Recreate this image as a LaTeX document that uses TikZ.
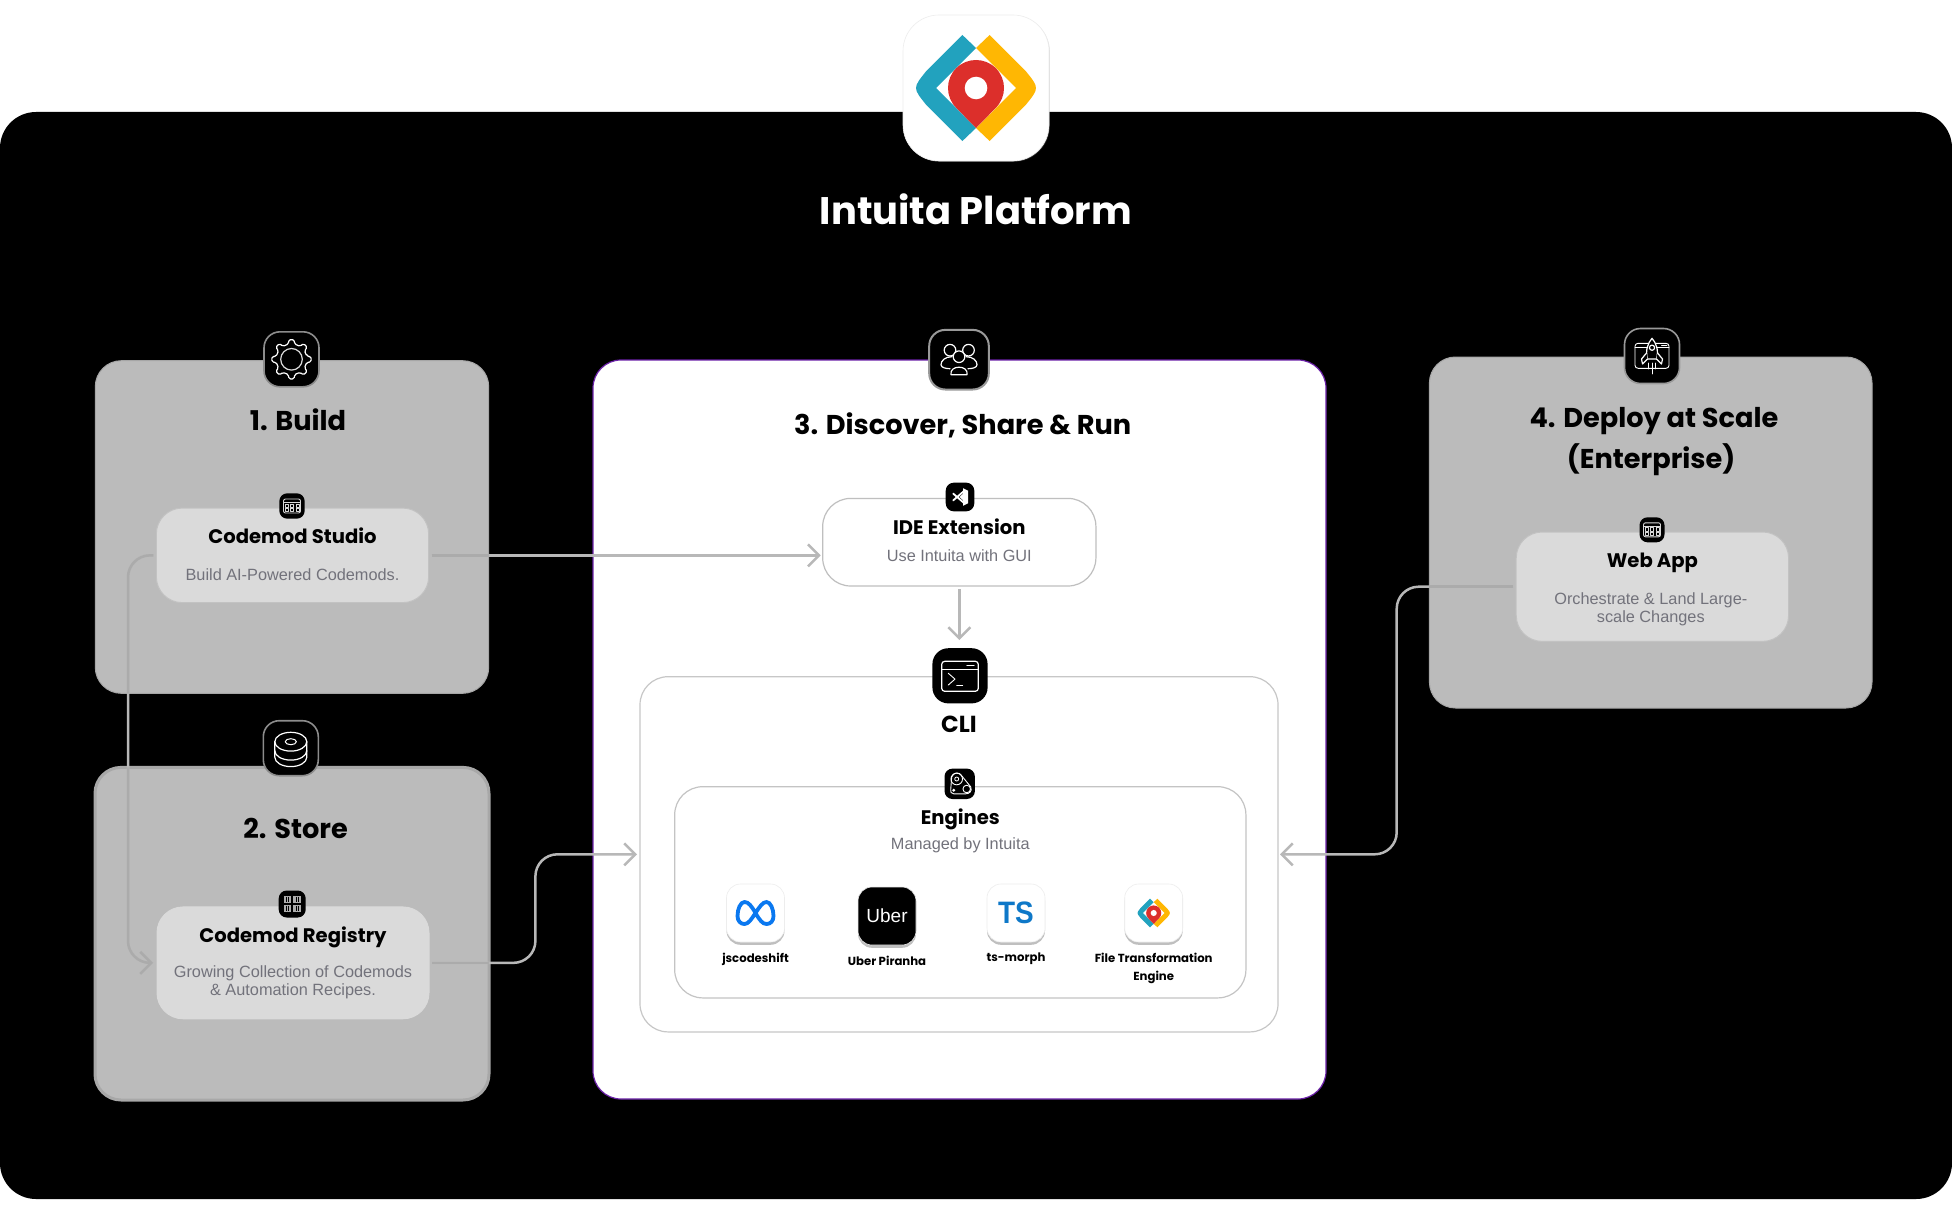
\documentclass[tikz,border=0pt]{standalone}
\usepackage{fontspec}
\setmainfont{Poppins}
\newfontfamily\notefont{Liberation Sans}
\usetikzlibrary{positioning, arrows.meta, shadows, calc}

\definecolor{panelgrey}{HTML}{BBBBBB}
\definecolor{cardgrey}{HTML}{DADADA}
\definecolor{wirelight}{HTML}{B8B8B8}
\definecolor{wiredark}{HTML}{ABABAB}
\definecolor{notegrey}{HTML}{72727B}
\definecolor{framepurple}{HTML}{6B21A8}
\definecolor{logoblue}{HTML}{22A2BE}
\definecolor{logoyellow}{HTML}{FFB703}
\definecolor{logored}{HTML}{DC2F2B}
\definecolor{metablue}{HTML}{0A78F0}
\definecolor{tsblue}{HTML}{0E78C8}

\tikzset{
  panel/.style={draw=#1, fill=panelgrey, rounded corners=13pt, outer sep=0pt, inner sep=0pt},
  card/.style={draw=#1, line width=.5pt, fill=cardgrey, rounded corners=13pt, outer sep=0pt, inner sep=0pt},
  frame/.style={draw=#1, line width=.6pt, fill=white, rounded corners=14pt, outer sep=0pt, inner sep=0pt},
  iconbox/.style={fill=black, rounded corners=8pt, outer sep=0pt, inner sep=0pt, minimum size=#1},
  miniicon/.style={fill=black, rounded corners=4pt, outer sep=0pt, inner sep=0pt, minimum size=#1},
  tile/.style={fill=#1, draw=black!7, line width=.3pt, rounded corners=7pt, minimum size=29pt, outer sep=0pt, inner sep=0pt,
    drop shadow={shadow xshift=0pt, shadow yshift=-1.4pt, opacity=.5}},
  glyph/.style={draw=white, line width=.6pt, line join=round, line cap=round},
  softglyph/.style={draw=black!15, line width=.45pt, line join=round},
  wire/.style={draw=#1, line width=1.25pt, rounded corners=11pt,
    >={Straight Barb[length=5.5pt,width=11pt]}},
  headtext/.style={font=\fontsize{13.6pt}{17pt}\selectfont\bfseries, text height=10pt, text depth=3pt, inner sep=0pt},
  cardtitle/.style={font=\fontsize{9.8pt}{12pt}\selectfont\bfseries, text height=8pt, text depth=2.5pt, inner sep=0pt},
  cardnote/.style={font=\notefont\fontsize{8.15pt}{9pt}\selectfont, text=notegrey, align=center, inner sep=0pt},
  enginename/.style={font=\fontsize{5.85pt}{9.2pt}\selectfont\bfseries, align=center, inner sep=0pt},
  pics/windowicon/.style={code={
    \draw[softglyph, rounded corners=1pt] (-8.5,-7) rectangle (8.5,7);
    \draw[softglyph] (-8.5,-3.5) -- (8.5,-3.5);
    \foreach \gx in {-5.5,0,5.5} \foreach \gy in {-.5,4}
      \draw[softglyph, line width=.3pt] (\gx-1.7,\gy-1.6) rectangle (\gx+1.7,\gy+1.6);
  }},
  pics/intuitalogo/.style={code={
    \fill[logoblue] (-13.6,-53) -- (-50,-16.6) .. controls (-63.3,0) .. (-50,16.6) -- (-13.6,53) -- (0,40) -- (-40,0) -- (0,-40) -- cycle;
    \fill[logoyellow] (13.6,-53) -- (50,-16.6) .. controls (63.3,0) .. (50,16.6) -- (13.6,53) -- (0,40) -- (40,0) -- (0,-40) -- cycle;
    \fill[logored] (0,40) -- (-19.8,19.8) arc[start angle=225, end angle=-45, radius=14pt] -- cycle;
    \fill[white] (0,0) circle[radius=5.65pt];
  }},
}

\begin{document}
\begin{tikzpicture}[x=0.5pt, y=-0.5pt]
  \fill[white] (0,0) rectangle (1952,1220);
  \useasboundingbox (0,0) rectangle (1952,1220);

  % Platform background
  \node[fill=black, rounded corners=18pt, minimum width=976pt, minimum height=543.5pt, outer sep=0pt, inner sep=0pt] (platform) at (976,655.5) {};

  % App icon and title
  \node[fill=white, draw=black!7, line width=.3pt, rounded corners=18pt, minimum size=73pt, outer sep=0pt, inner sep=0pt,
    drop shadow={shadow xshift=.4pt, shadow yshift=-.4pt, opacity=.3}] (appicon) at (976,88) {};
  \pic at (appicon) {intuitalogo};
  \node[font=\fontsize{19.2pt}{24pt}\selectfont\bfseries, text=white, inner sep=0pt, text height=14pt, text depth=4pt, below=17.5pt of appicon] (platformtitle) {Intuita Platform};

  % Panels
  \node[panel=black!35, line width=.5pt, minimum width=196.7pt, minimum height=166.3pt] (build) at (292,527) {};
  \node[panel=black!34, line width=1.5pt, minimum width=197pt, minimum height=166.3pt] (store) at (292,933.7) {};
  \node[panel=black!35, line width=.5pt, minimum width=221.3pt, minimum height=175.5pt] (deploy) at (1650.7,532.5) {};
  \node[frame=framepurple, minimum width=366.5pt, minimum height=369.5pt] (discover) at (959.5,729.5) {};

  % Cards
  \node[card=black!24, minimum width=136.2pt, minimum height=47.3pt] (studio) at (292.5,555.35) {};
  \node[card=cardgrey, minimum width=136pt, minimum height=55.9pt] (registry) at (293,962.85) {};
  \node[card=black!24, minimum width=136.2pt, minimum height=54.7pt] (webapp) at (1652.4,586.7) {};
  \node[frame=black!25, minimum width=136.6pt, minimum height=43.8pt] (ide) at (959.3,542.2) {};
  \node[frame=black!22, minimum width=319pt, minimum height=177.6pt] (cli) at (959,854.3) {};
  \node[frame=black!23, minimum width=285.6pt, minimum height=105.6pt] (engines) at (960.3,892.3) {};

  % Connector bends
  \coordinate (busleft) at (128,730);
  \coordinate (busstore) at (535.4,908);
  \coordinate (busdeploy) at (1396.7,720);

  % Connectors
  \draw[wire=wirelight, ->, shorten <=1.5pt, shorten >=1pt] (studio.east) -- (studio.east -| ide.west);
  \draw[wire=wirelight, ->, shorten <=1.5pt, shorten >=4pt] (ide.south) -- (ide.south |- 0,648);
  \draw[wire=wirelight, ->, shorten <=1.5pt, shorten >=2pt] (studio.west) -| (busleft) |- (registry.west);
  \draw[wire=wirelight, ->, shorten <=1.5pt, shorten >=1.5pt] (registry.east) -| (busstore) |- (cli.west);
  \draw[wire=wirelight, ->, shorten <=1.5pt, shorten >=1pt] (webapp.west) -| (busdeploy) |- (cli.east);
  % Connector parts that lie on the grey panels
  \draw[wire=wiredark, shorten <=1.5pt] (studio.east) -- (build.east |- studio.east);
  \draw[wire=wiredark, shorten <=1.5pt] (studio.west) -| (build.south -| busleft);
  \draw[wire=wiredark, ->, shorten >=2pt] (store.north -| busleft) |- (registry.west);
  \draw[wire=wiredark, shorten <=1.5pt] (registry.east) -- (store.east |- registry.east);
  \draw[wire=wiredark, shorten <=1.5pt] (webapp.west) -- (deploy.west |- webapp.west);

  % Panel titles
  \node[headtext, below=24.5pt of build.north, xshift=3pt] (buildtitle) {1. Build};
  \node[headtext, below=25.2pt of store.north, xshift=1.8pt] (storetitle) {2. Store};
  \node[headtext, below=27.2pt of discover.north, xshift=1.6pt] (discovertitle) {3. Discover, Share \& Run};
  \node[headtext, below=25pt of deploy.north, xshift=1.6pt] (deploytitle) {4. Deploy at Scale};
  \node[headtext, below=7.3pt of deploytitle, xshift=-1.4pt] (enterprisetitle) {(Enterprise)};

  % Card texts
  \node[cardtitle, below=9.55pt of studio.north] (studiotitle) {Codemod Studio};
  \node[cardnote, below=30pt of studio.north] (studionote) {Build AI-Powered Codemods.};
  \node[cardtitle, below=9.55pt of registry.north] (registrytitle) {Codemod Registry};
  \node[cardnote, below=29.2pt of registry.north] (registrynote) {Growing Collection of Codemods\\\& Automation Recipes.};
  \node[cardtitle, below=9.75pt of webapp.north] (webapptitle) {Web App};
  \node[cardnote, below=29.9pt of webapp.north, xshift=-.8pt] (webappnote) {Orchestrate \& Land Large-\\scale Changes};
  \node[cardtitle, below=9.9pt of ide.north] (idetitle) {IDE Extension};
  \node[cardnote, below=25.5pt of ide.north] (idenote) {Use Intuita with GUI};
  \node[cardtitle, font=\fontsize{11.6pt}{13pt}\selectfont\bfseries, below=19.6pt of cli.north] (clititle) {CLI};
  \node[cardtitle, below=10.55pt of engines.north] (enginestitle) {Engines};
  \node[cardnote, below=25.3pt of engines.north] (enginesnote) {Managed by Intuita};

  % Build icon
  \node[iconbox=27.5pt, draw=black!45, line width=.8pt] (buildicon) at (291.5,359.3) {};
  \begin{scope}[shift={(buildicon)}]
    \draw[glyph, rounded corners=.8pt] (-11:15.6) \foreach \a in {0,45,...,315} {-- (\a-11:15.6) -- (\a-8:19.8) -- (\a+8:19.8) -- (\a+11:15.6)} -- cycle;
    \draw[softglyph, line width=.6pt] (0,0) circle[radius=5.4pt];
  \end{scope}

  % Store icon
  \node[iconbox=27.5pt, draw=black!45, line width=.8pt] (storeicon) at (290.8,748.2) {};
  \begin{scope}[shift={(storeicon)}]
    \draw[glyph] (0,-6.5) ellipse[x radius=8pt, y radius=4.7pt];
    \draw[glyph, line width=.5pt] (0,-6.5) ellipse[x radius=2.8pt, y radius=1.5pt];
    \draw[glyph] (-16,-6.5) -- (-16,9) arc[start angle=180, end angle=360, x radius=8pt, y radius=4.7pt] -- (16,-6.5);
    \draw[glyph] (-16,2.5) arc[start angle=180, end angle=360, x radius=8pt, y radius=4.7pt];
  \end{scope}

  % Discover icon
  \node[iconbox=29.8pt, draw=black!40, line width=1pt] (teamicon) at (959,359.7) {};
  \begin{scope}[shift={(teamicon)}]
    \draw[glyph] (-9,-9.5) circle[radius=2.9pt];
    \draw[glyph] (9.5,-9.5) circle[radius=2.9pt];
    \draw[glyph] (-7,-3) .. controls (-14,-3) and (-18,1) .. (-18,5) .. controls (-18,8) and (-13,9) .. (-9,9);
    \draw[glyph] (7,-3) .. controls (14,-3) and (18,1) .. (18,5) .. controls (18,8) and (13,9) .. (9,9);
    \draw[glyph, fill=black] (0,-3) circle[radius=2.9pt];
    \draw[glyph, fill=black] (-8,15) .. controls (-10,5) and (10,5) .. (8,15) -- cycle;
  \end{scope}

  % Deploy icon
  \node[iconbox=27.5pt, draw=black!40, line width=.8pt] (deployicon) at (1652,356) {};
  \begin{scope}[shift={(deployicon)}]
    \draw[glyph, line width=.45pt, rounded corners=1.5pt] (-17,-12.7) rectangle (17,12.3);
    \draw[glyph, line width=.45pt] (-17,-8.3) -- (17,-8.3);
    \draw[glyph, line width=.7pt] (9.7,-10.7) -- (14.7,-10.7);
    \draw[glyph, fill=black] (-4.5,3) .. controls (-7,-6) and (-4,-13) .. (0,-17.7) .. controls (4,-13) and (7,-6) .. (4.5,3) -- cycle;
    \draw[glyph, fill=black] (-5.5,-3) -- (-10.5,3) -- (-9.5,8) -- (-4.5,3);
    \draw[glyph, fill=black] (5.5,-3) -- (10.5,3) -- (9.5,8) -- (4.5,3);
    \draw[glyph] (0,-8.3) circle[radius=1.3pt];
    \draw[glyph, line width=.45pt] (0,7) -- (0,18) (-3.7,7) -- (-3.7,13) (3.7,7) -- (3.7,13);
  \end{scope}

  % CLI icon
  \node[iconbox=27.6pt] (cliicon) at (960,675.8) {};
  \begin{scope}[shift={(cliicon)}]
    \draw[glyph, rounded corners=1.5pt] (-18.3,-14.5) rectangle (18.3,15.5);
    \draw[glyph, line width=.45pt] (-18.3,-6.5) -- (18.3,-6.5);
    \draw[glyph, line width=.7pt] (7,-10.5) -- (14,-10.5);
    \draw[glyph, line width=.45pt] (-11.7,-2.5) -- (-5,3.3) -- (-11.7,9.2);
    \draw[glyph, line width=.45pt] (-3.3,9.2) -- (2.7,9.2);
  \end{scope}

  % Small card icons
  \node[miniicon=12.7pt] (studioicon) at (292,506) {};
  \pic at (studioicon) {windowicon};
  \node[miniicon=12.5pt] (webappicon) at (1652,529.8) {};
  \pic at (webappicon) {windowicon};

  \node[miniicon=13.5pt] (registryicon) at (292.2,904) {};
  \begin{scope}[shift={(registryicon)}]
    \foreach \gx in {-8.4,1.2} \foreach \gy in {-8.4,1.2} {
      \fill[black!32] (\gx,\gy) rectangle (\gx+7.2,\gy+7.2);
      \draw[black, line width=.3pt] (\gx+2.4,\gy+1) -- (\gx+2.4,\gy+6.2) (\gx+4.8,\gy+1) -- (\gx+4.8,\gy+6.2);
    }
  \end{scope}

  \node[miniicon=14.3pt] (ideicon) at (960,497) {};
  \begin{scope}[shift={(ideicon)}]
    \draw[white, line width=.9pt, line cap=round] (-6.8,-3.4) -- (4,6) (-6.8,3.4) -- (4,-6);
    \fill[white] (3,-8.8) -- (8,-6.3) -- (8,6.3) -- (3,8.8) -- (3,3.2) -- (-.6,0) -- (3,-3.2) -- cycle;
  \end{scope}

  \node[miniicon=15.2pt] (enginesicon) at (959.7,783.8) {};
  \begin{scope}[shift={(enginesicon)}]
    \draw[glyph, line width=.45pt] (-3,-4.8) circle[radius=2.9pt];
    \draw[glyph, line width=.4pt] (-3,-4.8) circle[radius=1pt];
    \draw[glyph, line width=.45pt] (7,5.2) circle[radius=1.9pt];
    \draw[glyph, line width=.45pt] (-8,-7) .. controls (-6,-12) and (0,-12) .. (2,-8) -- (11,3) .. controls (13,8) and (9,10) .. (6,10) -- (-6,10) .. controls (-9,10) and (-9,8) .. (-9,6) -- cycle;
    \fill[white] (-6,6.5) circle[radius=.8pt];
  \end{scope}

  % Engine tiles
  \node[tile=white] (metatile) at (755.5,913) {};
  \begin{scope}[shift={(metatile)}]
    \draw[metablue, line width=1.9pt] (0,0) .. controls (-4,-7) and (-7,-11) .. (-11,-11) .. controls (-15,-11) and (-18,-4) .. (-18,3) .. controls (-18,8) and (-15,11) .. (-11,11) .. controls (-7,11) and (-4,6) .. (0,0) .. controls (4,-6) and (7,-11) .. (11,-11) .. controls (15,-11) and (18,-4) .. (18,3) .. controls (18,8) and (15,11) .. (11,11) .. controls (7,11) and (4,7) .. (0,0) -- cycle;
  \end{scope}
  \node[tile=black] (ubertile) at (887,916) {};
  \node[text=white, font=\notefont\fontsize{9.5pt}{12pt}\selectfont, inner sep=0pt] (ubertext) at (ubertile) {Uber};
  \node[tile=white] (tstile) at (1016,913) {};
  \node[text=tsblue, font=\notefont\fontsize{15.5pt}{16pt}\selectfont\bfseries, xscale=.9, inner sep=0pt] (tstext) at (tstile) {TS};
  \node[tile=white] (filetile) at (1153.7,913) {};
  \pic[scale=.27] at (filetile) {intuitalogo};

  % Engine names
  \node[enginename, below=5.3pt of metatile] (metaname) {jscodeshift};
  \node[enginename, below=5.3pt of ubertile] (ubername) {Uber Piranha};
  \node[enginename, below=5.3pt of tstile] (tsname) {ts-morph};
  \node[enginename, below=5.3pt of filetile] (filename) {File Transformation\\Engine};
\end{tikzpicture}
\end{document}
